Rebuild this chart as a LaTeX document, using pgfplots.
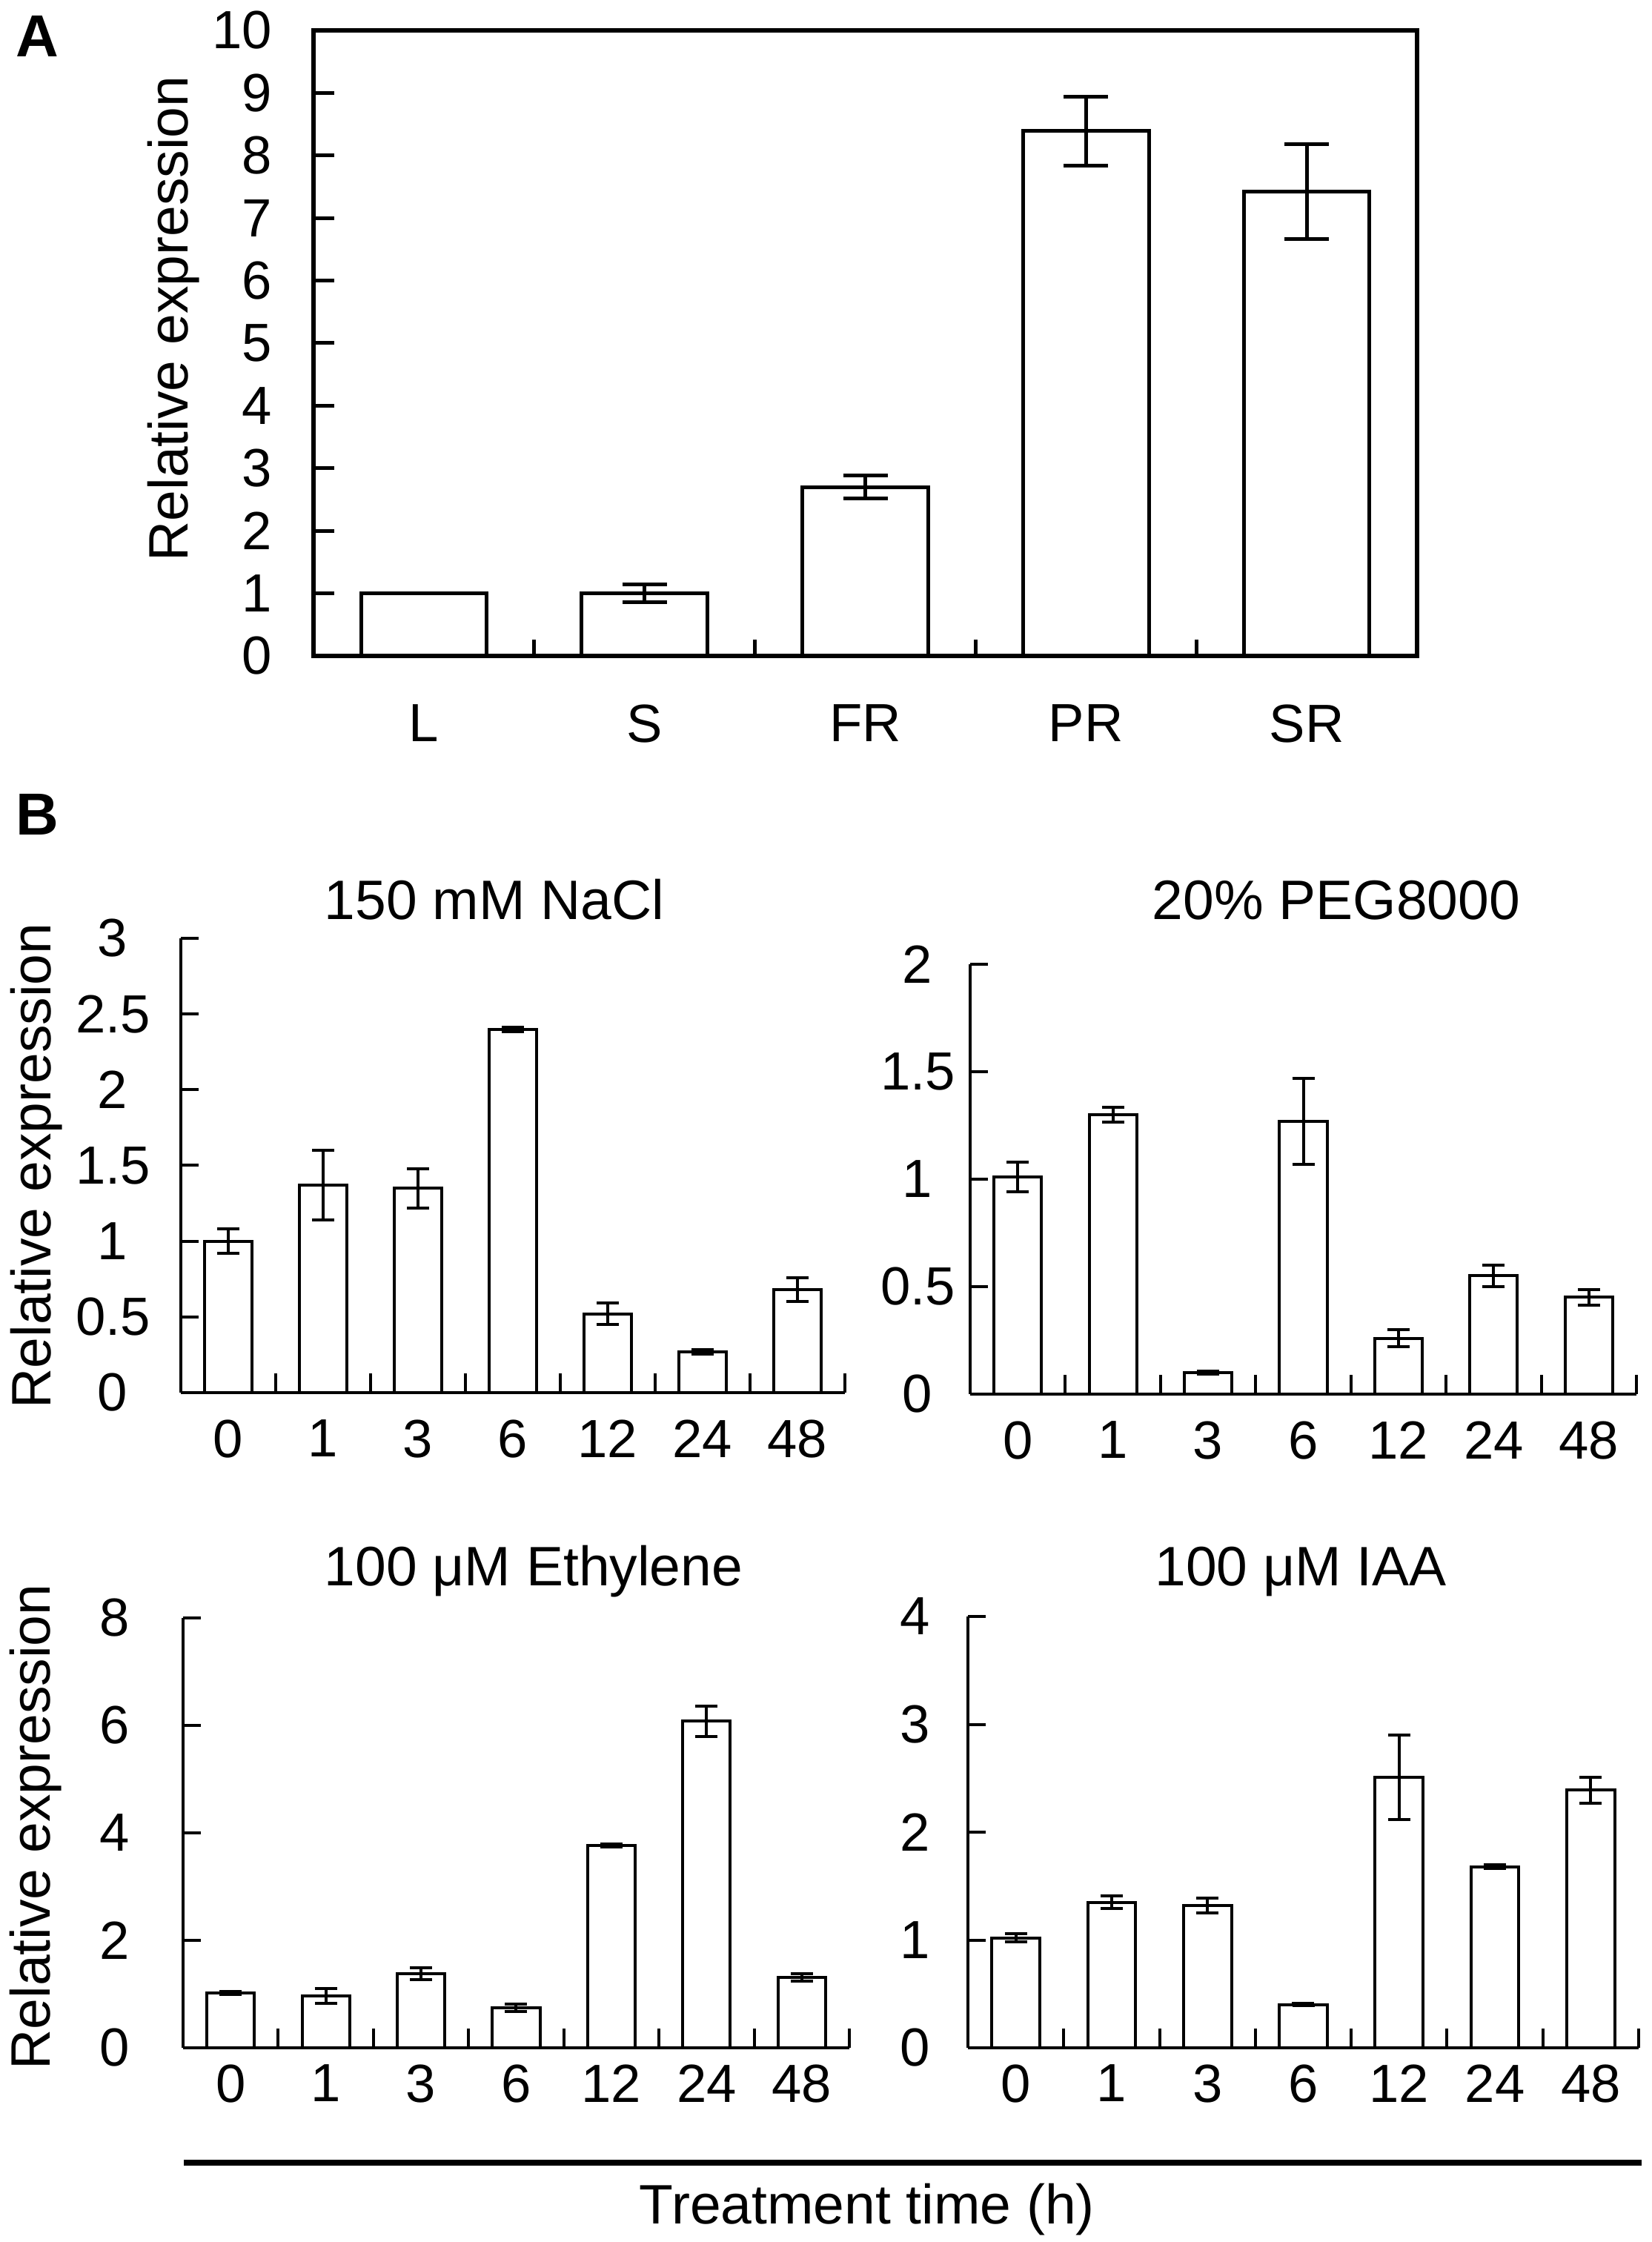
\documentclass[border=0pt]{standalone}
\usepackage{fontspec}
\setmainfont{Liberation Sans}
\usepackage{pgfplots}
\pgfplotsset{compat=1.18}
\usepackage{pgfplotstable}

\pgfplotstableread{
x y e
0 1.00 0
1 1.00 0.14
2 2.70 0.18
3 8.39 0.55
4 7.42 0.76
}\tissue
\pgfplotstableread{
x y e
0 1.00 0.08
1 1.37 0.23
2 1.35 0.13
3 2.40 0.015
4 0.52 0.07
5 0.27 0.015
6 0.68 0.08
}\nacl
\pgfplotstableread{
x y e
0 1.01 0.07
1 1.30 0.035
2 0.10 0.008
3 1.27 0.20
4 0.26 0.04
5 0.55 0.05
6 0.45 0.035
}\peg
\pgfplotstableread{
x y e
0 1.02 0.03
1 0.97 0.14
2 1.38 0.11
3 0.75 0.07
4 3.77 0.03
5 6.08 0.28
6 1.31 0.07
}\eth
\pgfplotstableread{
x y e
0 1.02 0.04
1 1.35 0.06
2 1.32 0.07
3 0.40 0.01
4 2.51 0.39
5 1.68 0.02
6 2.39 0.12
}\iaa

\newcommand\tfont{\fontsize{14.5}{17}\selectfont}
\newcommand\lfont{\fontsize{15}{18}\selectfont}

\pgfplotsset{
  common/.style={
    scale only axis, enlargelimits=false,
    /pgf/number format/assume math mode=true,
    tick align=inside,
    tick label style={font=\tfont, black},
    ymin=0,
  },
  bpanel/.style={
    common,
    axis x line*=bottom, axis y line*=left,
    axis line style={-, line width=0.8pt, black},
    xmin=-0.5, xmax=6.5,
    xtick={0,...,6}, xticklabels={0,1,3,6,12,24,48},
    minor xtick={0.5,1.5,2.5,3.5,4.5,5.5,6.5},
    major x tick style={draw=none},
    minor x tick style={line width=0.8pt, black},
    major y tick style={line width=0.8pt, black},
    major tick length=4.8pt, minor tick length=5.2pt,
    xticklabel style={anchor=north, inner sep=0pt},
    width=179.5pt, height=116.2pt,
  },
  bleft/.style={yticklabel style={anchor=east, inner sep=0pt, text width=20pt, align=center, xshift=-8.2pt}},
  bright/.style={yticklabel style={anchor=east, inner sep=0pt, text width=20pt, align=center, xshift=-4pt}},
  bbar/.style={ybar, bar width=0.5, fill=white, draw=black, line width=0.8pt,
    error bars/.cd, y dir=both, y explicit,
    error mark=|,
    error bar style={line width=0.8pt, black},
    error mark options={line width=0.8pt, black, mark size=3pt}},
}

\begin{document}
\begin{tikzpicture}
\useasboundingbox (0,0) rectangle (445.6pt,605pt);

% Panel A
\begin{axis}[common,
  at={(84.6pt,428pt)}, anchor=south west,
  width=297.8pt, height=168.8pt,
  axis line style={line width=1.1pt, black},
  xmin=-0.5, xmax=4.5, ymax=10,
  xtick={0,...,4}, xticklabels={L,S,FR,PR,SR},
  minor xtick={0.5,1.5,2.5,3.5},
  xtick pos=left, ytick pos=left,
  ytick={0,1,2,3,4,5,6,7,8,9,10},
  major x tick style={draw=none},
  minor x tick style={line width=1pt, black},
  major y tick style={line width=1pt, black},
  major tick length=5.6pt, minor tick length=4.4pt,
  xticklabel style={anchor=north, inner sep=0pt, yshift=-13pt},
  yticklabel style={anchor=east, inner sep=0pt, xshift=-11pt},
]
\addplot[ybar, bar width=0.57, fill=white, draw=black, line width=1pt,
  error bars/.cd, y dir=both, y explicit,
  error mark=|,
  error bar style={line width=1pt, black},
  error mark options={line width=1pt, black, mark size=6pt}]
  table[x=x, y=y, y error=e] {\tissue};
\end{axis}

% NaCl
\begin{axis}[bpanel, bleft,
  at={(48.8pt,229.2pt)}, anchor=south west,
  width=179.2pt, height=122.6pt,
  ymax=3, ytick={0,0.5,1,1.5,2,2.5,3},
  xticklabel style={yshift=-7.2pt},
]
\addplot[bbar] table[x=x, y=y, y error=e] {\nacl};
\end{axis}

% PEG
\begin{axis}[bpanel, bright,
  at={(261.8pt,228.8pt)}, anchor=south west,
  width=179.8pt, height=116pt,
  ymax=2, ytick={0,0.5,1,1.5,2},
  xticklabel style={yshift=-7.2pt},
]
\addplot[bbar] table[x=x, y=y, y error=e] {\peg};
\end{axis}

% Ethylene
\begin{axis}[bpanel, bleft,
  at={(49.4pt,52.4pt)}, anchor=south west,
  width=179.8pt, height=116pt,
  ymax=8, ytick={0,2,4,6,8},
  xticklabel style={yshift=-4.4pt},
]
\addplot[bbar] table[x=x, y=y, y error=e] {\eth};
\end{axis}

% IAA
\begin{axis}[bpanel, bright,
  at={(261.2pt,52.4pt)}, anchor=south west,
  width=181pt, height=116.4pt,
  ymax=4, ytick={0,1,2,3,4},
  xticklabel style={yshift=-4.4pt},
]
\addplot[bbar] table[x=x, y=y, y error=e] {\iaa};
\end{axis}

% labels
\node[anchor=base, font=\fontsize{16}{19}\selectfont\bfseries] at (10pt,589.6pt) {A};
\node[anchor=base, font=\fontsize{16}{19}\selectfont\bfseries] at (10pt,379.6pt) {B};
\node[anchor=base, rotate=90, font=\lfont] at (50.6pt,519pt) {Relative expression};
\node[anchor=base, rotate=90, font=\lfont] at (13.6pt,290.4pt) {Relative expression};
\node[anchor=base, rotate=90, font=\lfont] at (13.4pt,112pt) {Relative expression};
\node[anchor=base, font=\lfont] at (133.4pt,356.8pt) {150 mM NaCl};
\node[anchor=base, font=\lfont] at (360.6pt,356.8pt) {20\% PEG8000};
\node[anchor=base, font=\lfont] at (144pt,177pt) {100 μM Ethylene};
\node[anchor=base, font=\lfont] at (351pt,177pt) {100 μM IAA};
\draw[line width=1.5pt] (49.6pt,21.4pt) -- (443pt,21.4pt);
\node[anchor=base, font=\lfont] at (234pt,5pt) {Treatment time (h)};
\end{tikzpicture}
\end{document}
